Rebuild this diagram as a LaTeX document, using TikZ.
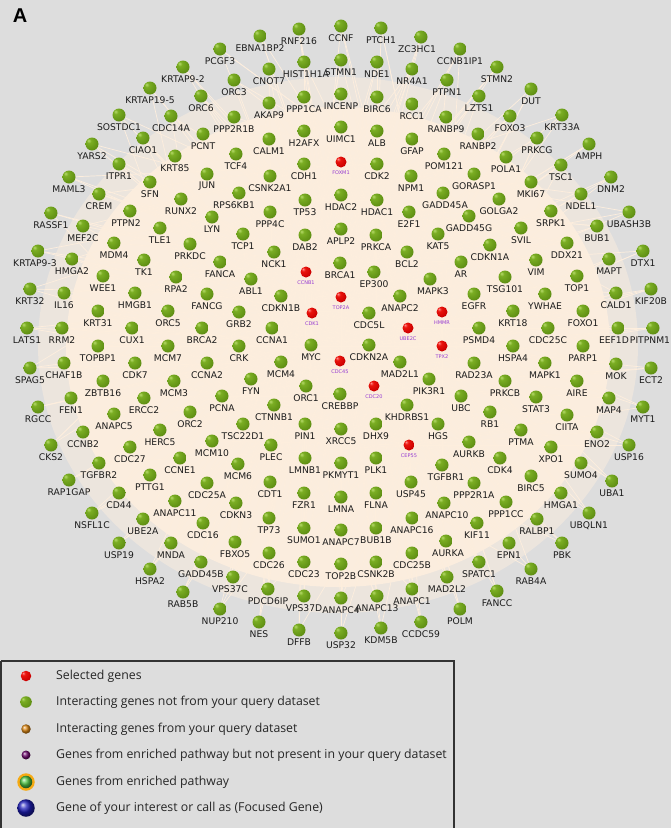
\documentclass[tikz,border=0pt]{standalone}
\usepackage{fontspec}
\setmainfont{DejaVu Sans}
\newfontfamily\legfont{Open Sans}
\newfontfamily\headfont{Liberation Sans}
\pgfdeclarelayer{bg}
\pgfsetlayers{bg,main}
\definecolor{bggray}{RGB}{221,221,221}
\definecolor{cream}{RGB}{251,237,222}
\definecolor{edgecol}{RGB}{253,238,221}
\definecolor{labgray}{RGB}{28,28,28}
\definecolor{labpurple}{RGB}{150,60,210}
\definecolor{legorange}{RGB}{220,135,20}
\definecolor{legpurple}{RGB}{110,10,110}
\definecolor{legring}{RGB}{245,170,20}
\definecolor{legringin}{RGB}{80,200,70}
\definecolor{legblue}{RGB}{30,30,185}
\pgfdeclareradialshading{greensph}{\pgfpoint{-14bp}{14bp}}{%
  rgb(0bp)=(0.72,0.86,0.42); rgb(9bp)=(0.48,0.68,0.14); rgb(30bp)=(0.38,0.57,0.08);
  rgb(50bp)=(0.26,0.41,0.04); rgb(70bp)=(0.24,0.38,0.03)}
\pgfdeclareradialshading{redsph}{\pgfpoint{-14bp}{14bp}}{%
  rgb(0bp)=(1,0.55,0.55); rgb(9bp)=(0.92,0.08,0.05); rgb(30bp)=(0.80,0,0);
  rgb(50bp)=(0.60,0,0); rgb(70bp)=(0.55,0,0)}
\tikzset{
  gball/.style={circle, inner sep=0pt, minimum size=13pt, shading=greensph},
  rball/.style={circle, inner sep=0pt, minimum size=11pt, shading=redsph},
  glab/.style={font=\fontsize{9.2}{9.2}\selectfont, text=labgray, inner sep=0pt},
  rlab/.style={font=\fontsize{5}{5}\selectfont, text=labpurple, inner sep=0pt},
  edge/.style={draw=edgecol, line width=0.7pt},
  legtext/.style={font=\legfont\fontsize{12.3}{14}\selectfont, text=black!85, anchor=west, inner sep=0pt},
}
\def\allgenes{}
\newcommand\hubnode[3]{%
  \node[gball] (#1) at (#2,#3) {};
  \node[glab] (#1-t) at (#2,#3+12.5) {#1};}
\newcommand\selnode[3]{%
  \node[rball] (#1) at (#2,#3) {};
  \node[rlab] (#1-t) at (#2,#3+11) {#1};}
\newcommand\genenode[4][0]{%
  \node[gball] (#2) at (#3,#4) {};
  \node[glab] (#2-t) at (#3+#1,#4+12.5) {#2};
  \xdef\allgenes{\ifx\allgenes\empty #2\else\allgenes,#2\fi}}
\begin{document}
\begin{tikzpicture}[x=1pt,y=-1pt]
\pgfmathsetseed{11}
\useasboundingbox (0,0) rectangle (671,828);
\node[font=\headfont\bfseries\fontsize{20}{20}\selectfont, inner sep=0pt] (title) at (20,16) {A};
% hubs
\selnode{FOXM1}{341}{162}
\selnode{CCNB1}{306}{272}
\selnode{TOP2A}{341}{297}
\selnode{CDK1}{312}{313}
\selnode{HMMR}{442}{312}
\selnode{UBE2C}{408}{328}
\selnode{TPX2}{442}{346}
\selnode{CDC45}{340}{361}
\selnode{CDC20}{374}{386}
\selnode{CEP55}{409}{445}
\hubnode{TP53}{305}{200}
\hubnode{CDK2}{377}{164}
\hubnode{MYC}{311}{345}
\hubnode{PCNA}{222}{396}
\hubnode{BRCA1}{340}{263}
\hubnode{CTNNB1}{274}{405}
% other genes
\genenode{PCGF3}{220}{49}
\genenode{EBNA1BP2}{260}{36}
\genenode{RNF216}{299}{29}
\genenode{CCNF}{341}{26}
\genenode{PTCH1}{381}{28}
\genenode[-4]{ZC3HC1}{421}{37}
\genenode{CCNB1IP1}{460}{49}
\genenode{KRTAP9-2}{183}{67}
\genenode[2]{HIST1H1A}{304}{62}
\genenode{STMN1}{341}{60}
\genenode{NDE1}{377}{62}
\genenode{NR4A1}{412}{69}
\genenode{STMN2}{497}{67}
\genenode{ORC3}{234}{80}
\genenode{CNOT7}{269}{69}
\genenode{PTPN1}{447}{80}
\genenode{KRTAP19-5}{150}{88}
\genenode{ORC6}{201}{96}
\genenode{PPP1CA}{304}{97}
\genenode{INCENP}{341}{94}
\genenode{BIRC6}{377}{97}
\genenode{LZTS1}{479}{96}
\genenode{DUT}{531}{89}
\genenode{SOSTDC1}{119}{115}
\genenode{CDC14A}{171}{116}
\genenode{AKAP9}{269}{103}
\genenode{RCC1}{412}{104}
\genenode{FOXO3}{510}{116}
\genenode{KRT33A}{562}{115}
\genenode{PPP2R1B}{234}{117}
\genenode{H2AFX}{304}{131}
\genenode{UIMC1}{341}{127}
\genenode{ALB}{377}{131}
\genenode{RANBP9}{446}{117}
\genenode{RANBP2}{478}{134}
\genenode{CIAO1}{143}{138}
\genenode{PCNT}{203}{134}
\genenode{GFAP}{412}{139}
\genenode{POM121}{444}{154}
\genenode{PRKCG}{537}{138}
\genenode{YARS2}{92}{144}
\genenode{KRT85}{175}{156}
\genenode{CALM1}{269}{139}
\genenode{POLA1}{506}{157}
\genenode{AMPH}{589}{144}
\genenode{TCF4}{236}{154}
\genenode{CDH1}{304}{164}
\genenode{NPM1}{411}{176}
\genenode{TSC1}{561}{165}
\genenode{ITPR1}{119}{164}
\genenode{JUN}{207}{174}
\genenode{CSNK2A1}{270}{176}
\genenode{GORASP1}{474}{174}
\genenode{MKI67}{531}{182}
\genenode{DNM2}{611}{177}
\genenode{MAML3}{69}{177}
\genenode{SFN}{150}{182}
\genenode[2]{GADD45A}{443}{193}
\genenode{CREM}{99}{194}
\genenode[-5]{RPS6KB1}{239}{193}
\genenode{HDAC2}{341}{195}
\genenode{HDAC1}{377}{200}
\genenode{GOLGA2}{499}{199}
\genenode{NDEL1}{581}{194}
\genenode{RUNX2}{181}{199}
\genenode{GADD45G}{469}{216}
\genenode[-4]{PTPN2}{130}{211}
\genenode{PPP4C}{270}{212}
\genenode{E2F1}{409}{212}
\genenode{SRPK1}{551}{211}
\genenode{UBASH3B}{629}{212}
\genenode{RASSF1}{51}{213}
\genenode{MEF2C}{83}{226}
\genenode{TLE1}{160}{228}
\genenode{LYN}{212}{217}
\genenode{SVIL}{521}{228}
\genenode{BUB1}{597}{226}
\genenode[-3]{KRTAP9-3}{38}{251}
\genenode{MDM4}{114}{243}
\genenode{TCP1}{243}{234}
\genenode{DAB2}{305}{235}
\genenode{APLP2}{341}{229}
\genenode{PRKCA}{376}{235}
\genenode{KAT5}{438}{234}
\genenode{CDKN1A}{490}{245}
\genenode{DDX21}{567}{243}
\genenode{DTX1}{643}{251}
\genenode{HMGA2}{72}{259}
\genenode{PRKDC}{190}{244}
\genenode{NCK1}{274}{252}
\genenode{BCL2}{407}{252}
\genenode{AR}{461}{262}
\genenode{VIM}{536}{260}
\genenode{MAPT}{609}{259}
\genenode{TK1}{144}{260}
\genenode{FANCA}{220}{262}
\genenode{EP300}{374}{272}
\genenode[3]{MAPK3}{430}{279}
\genenode{TSG101}{505}{277}
\genenode{TOP1}{577}{276}
\genenode{WEE1}{103}{276}
\genenode{RPA2}{176}{277}
\genenode{ABL1}{251}{279}
\genenode{CDKN1B}{281}{296}
\genenode{ANAPC2}{400}{296}
\genenode{EGFR}{474}{294}
\genenode{YWHAE}{545}{294}
\genenode{CALD1}{616}{293}
\genenode{KIF20B}{651}{289}
\genenode{KRT32}{30}{289}
\genenode{IL16}{64}{293}
\genenode{HMGB1}{135}{293}
\genenode{FANCG}{207}{294}
\genenode{GRB2}{239}{312}
\genenode{CDC5L}{369}{313}
\genenode{KRT18}{513}{311}
\genenode{FOXO1}{583}{311}
\genenode{KRT31}{98}{311}
\genenode{ORC5}{168}{311}
\genenode{LATS1}{27}{328}
\genenode{RRM2}{62}{328}
\genenode{CUX1}{132}{328}
\genenode{BRCA2}{202}{328}
\genenode{CCNA1}{272}{328}
\genenode{PSMD4}{479}{328}
\genenode{CDC25C}{548}{328}
\genenode[-4]{EEF1D}{618}{328}
\genenode[-3]{PITPNM1}{653}{328}
\genenode{TOPBP1}{98}{346}
\genenode{MCM7}{168}{346}
\genenode{CRK}{239}{346}
\genenode{CDKN2A}{369}{345}
\genenode{HSPA4}{513}{346}
\genenode{PARP1}{583}{346}
\genenode{SPAG5}{30}{368}
\genenode{CHAF1B}{64}{363}
\genenode{CDK7}{135}{363}
\genenode{CCNA2}{207}{363}
\genenode{MCM4}{281}{362}
\genenode{MAD2L1}{400}{362}
\genenode{RAD23A}{474}{363}
\genenode{MAPK1}{545}{363}
\genenode{MOK}{616}{364}
\genenode{ECT2}{651}{368}
\genenode{ZBTB16}{103}{381}
\genenode{MCM3}{174}{381}
\genenode{FYN}{251}{379}
\genenode{ORC1}{306}{386}
\genenode{PIK3R1}{429}{379}
\genenode{PRKCB}{505}{381}
\genenode{AIRE}{577}{381}
\genenode{FEN1}{71}{398}
\genenode{ERCC2}{144}{398}
\genenode{CREBBP}{340}{394}
\genenode{KHDRBS1}{407}{405}
\genenode{UBC}{461}{396}
\genenode{STAT3}{536}{397}
\genenode{MAP4}{609}{398}
\genenode{MYT1}{643}{407}
\genenode{RGCC}{38}{407}
\genenode{ORC2}{190}{412}
\genenode{ANAPC5}{114}{414}
\genenode{RB1}{490}{412}
\genenode{CIITA}{567}{415}
\genenode{TSC22D1}{243}{424}
\genenode{PIN1}{305}{424}
\genenode{XRCC5}{341}{429}
\genenode{DHX9}{376}{424}
\genenode{HGS}{438}{424}
\genenode{HERC5}{160}{430}
\genenode{CCNB2}{83}{432}
\genenode{CKS2}{51}{445}
\genenode{CDC27}{130}{447}
\genenode{MCM10}{212}{441}
\genenode{PLEC}{271}{445}
\genenode{PTMA}{521}{430}
\genenode{ENO2}{597}{432}
\genenode{USP16}{629}{445}
\genenode{TGFBR2}{99}{463}
\genenode{CCNE1}{180}{458}
\genenode{MCM6}{238}{464}
\genenode{LMNB1}{305}{458}
\genenode{PKMYT1}{341}{463}
\genenode{PLK1}{376}{458}
\genenode[4]{TGFBR1}{442}{465}
\genenode{AURKB}{469}{442}
\genenode{XPO1}{551}{447}
\genenode{RAP1GAP}{69}{480}
\genenode{PTTG1}{150}{475}
\genenode{CDC25A}{207}{483}
\genenode{CDT1}{270}{482}
\genenode{USP45}{411}{482}
\genenode{CDK4}{500}{458}
\genenode{SUMO4}{581}{463}
\genenode{BIRC5}{531}{476}
\genenode{UBA1}{612}{481}
\genenode{PPP2R1A}{474}{483}
\genenode{CD44}{119}{493}
\genenode{FZR1}{304}{493}
\genenode{LMNA}{341}{497}
\genenode{FLNA}{376}{493}
\genenode{ANAPC11}{175}{501}
\genenode{CDKN3}{236}{503}
\genenode[3]{ANAPC10}{444}{503}
\genenode{PPP1CC}{506}{502}
\genenode{HMGA1}{561}{493}
\genenode{UBQLN1}{589}{513}
\genenode{NSFL1C}{92}{513}
\genenode{UBE2A}{143}{519}
\genenode{CDC16}{203}{523}
\genenode{TP73}{269}{518}
\genenode{SUMO1}{304}{528}
\genenode{ANAPC7}{341}{530}
\genenode{BUB1B}{376}{528}
\genenode{ANAPC16}{412}{518}
\genenode{KIF11}{477}{523}
\genenode{RALBP1}{537}{519}
\genenode{USP19}{119}{543}
\genenode{MNDA}{171}{543}
\genenode{FBXO5}{235}{542}
\genenode[2]{AURKA}{446}{541}
\genenode{EPN1}{509}{543}
\genenode{PBK}{562}{543}
\genenode{CDC26}{269}{553}
\genenode{CDC23}{304}{562}
\genenode{TOP2B}{341}{564}
\genenode{CSNK2B}{376}{562}
\genenode{CDC25B}{412}{553}
\genenode{GADD45B}{201}{562}
\genenode{HSPA2}{150}{569}
\genenode{SPATC1}{479}{562}
\genenode{RAB4A}{531}{569}
\genenode[-3]{VPS37C}{233}{577}
\genenode{MAD2L2}{447}{577}
\genenode{PDCD6IP}{268}{589}
\genenode{VPS37D}{304}{596}
\genenode{ANAPC4}{341}{598}
\genenode{ANAPC13}{377}{596}
\genenode{ANAPC1}{412}{589}
\genenode{FANCC}{497}{591}
\genenode{RAB5B}{183}{592}
\genenode{NUP210}{220}{609}
\genenode{POLM}{460}{609}
\genenode{NES}{259}{622}
\genenode{CCDC59}{421}{622}
\genenode{DFFB}{299}{630}
\genenode{USP32}{341}{633}
\genenode{KDM5B}{381}{628}
% background and connectors
\begin{pgfonlayer}{bg}
  \fill[bggray] (0,0) rectangle (671,828);
  \fill[cream, opacity=0.5] (338,345) ellipse [x radius=300, y radius=268];
  \fill[cream] (338,347) ellipse [x radius=272, y radius=240];
  \foreach \a/\b in {FOXM1/CDK1,FOXM1/CCNB1,FOXM1/TP53,FOXM1/CDK2,CCNB1/CDK1,CCNB1/TOP2A,CCNB1/CDC20,TOP2A/CDK1,TOP2A/UBE2C,CDK1/CDC45,CDK1/MYC,HMMR/TPX2,HMMR/UBE2C,UBE2C/CDC20,TPX2/CDC20,CDC45/PCNA,CDC20/CEP55,CEP55/TPX2,TP53/MYC,TP53/BRCA1,CDK2/PCNA,MYC/CTNNB1,BRCA1/PCNA,CTNNB1/TP53,CDK2/BRCA1,MYC/CDC45}
    \draw[edge] (\a) -- (\b);
  \foreach \n in \allgenes {%
    \foreach \k in {1,2,3}{%
      \pgfmathrandominteger{\hubidx}{0}{15}%
      \edef\hubname{\ifcase\hubidx\space FOXM1\or CCNB1\or TOP2A\or CDK1\or HMMR\or UBE2C\or TPX2\or CDC45\or CDC20\or CEP55\or TP53\or CDK2\or MYC\or PCNA\or BRCA1\or CTNNB1\fi}%
      \draw[edge] (\n) -- (\hubname);}}
\end{pgfonlayer}
% legend
\draw[black!80, line width=1.1pt] (1,661) -- (454,661) -- (454,832);
\draw[black!80, line width=1.1pt] (1,661) -- (1,832);
\node[circle, inner sep=0pt, minimum size=10.5pt, shading=redsph] (l1) at (26,676) {};
\node[legtext] (t1) at (56,676) {Selected genes};
\node[circle, inner sep=0pt, minimum size=11.5pt, shading=greensph] (l2) at (26,702) {};
\node[legtext] (t2) at (56,702) {Interacting genes not from your query dataset};
\node[circle, inner sep=0pt, minimum size=9.5pt, ball color=legorange] (l3) at (26,729) {};
\node[legtext] (t3) at (56,729) {Interacting genes from your query dataset};
\node[circle, inner sep=0pt, minimum size=9pt, ball color=legpurple] (l4) at (26,755) {};
\node[legtext] (t4) at (56,755) {Genes from enriched pathway but not present in your query dataset};
\node[circle, inner sep=0pt, minimum size=17.5pt, fill=legring] (l5r) at (26,782) {};
\node[circle, inner sep=0pt, minimum size=12.5pt, ball color=legringin] (l5) at (26,782) {};
\node[legtext] (t5) at (56,782) {Genes from enriched pathway};
\node[circle, inner sep=0pt, minimum size=17.5pt, ball color=legblue] (l6) at (26,808) {};
\node[legtext] (t6) at (56,808) {Gene of your interest or call as (Focused Gene)};
\end{tikzpicture}
\end{document}
